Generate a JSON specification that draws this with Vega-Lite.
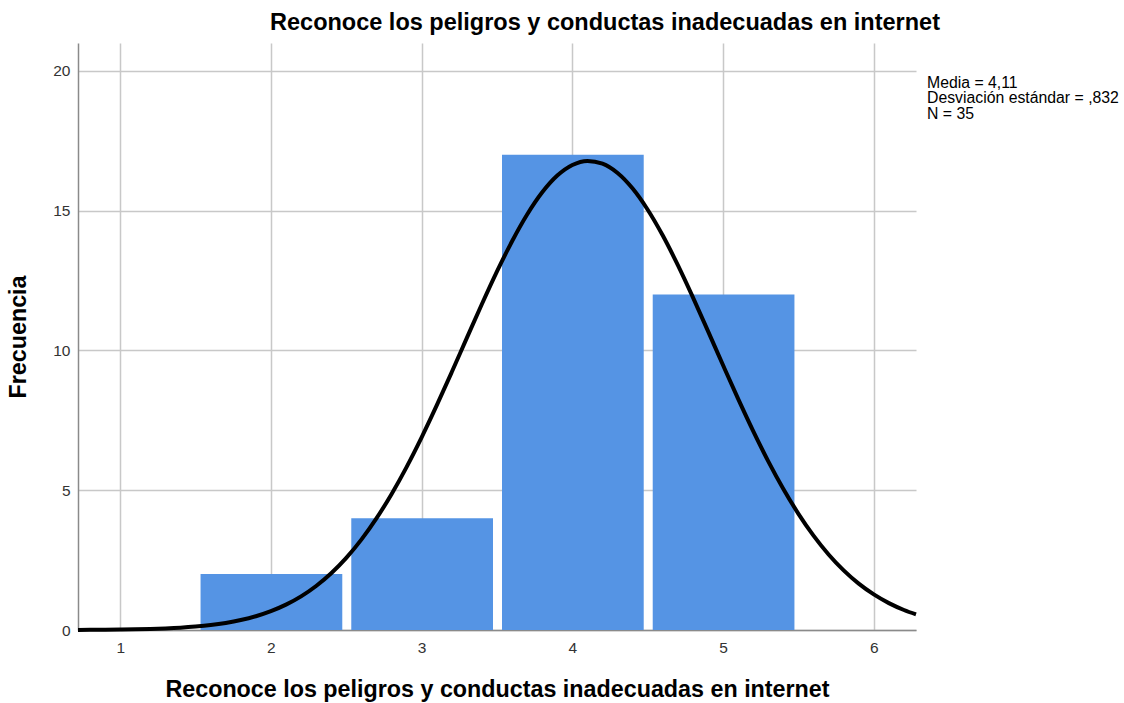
{
  "$schema": "https://vega.github.io/schema/vega-lite/v6.json",
  "width": 838,
  "height": 587,
  "autosize": "none",
  "padding": {"left": 78, "top": 43, "right": 208, "bottom": 73},
  "background": "white",
  "config": {
    "font": "Liberation Sans",
    "view": {"stroke": null},
    "axis": {
      "labelFont": "Liberation Sans",
      "titleFont": "Liberation Sans",
      "labelFontSize": 15.5,
      "labelColor": "#333333",
      "titleFontSize": 23.3,
      "titleFontWeight": "bold",
      "titleColor": "#000000",
      "grid": true,
      "gridColor": "#c8c8c8",
      "gridWidth": 1.5,
      "domainColor": "#8a8a8a",
      "domainWidth": 1.5,
      "ticks": false
    }
  },
  "title": {
    "text": "Reconoce los peligros y conductas inadecuadas en internet",
    "font": "Liberation Sans",
    "fontSize": 23.5,
    "fontWeight": "bold",
    "color": "#000000",
    "anchor": "middle",
    "dx": 108,
    "offset": 9
  },
  "datasets": {
    "bars": [
      {"start": 1.5, "end": 2.5, "count": 2},
      {"start": 2.5, "end": 3.5, "count": 4},
      {"start": 3.5, "end": 4.5, "count": 17},
      {"start": 4.5, "end": 5.5, "count": 12}
    ],
    "curve": [
      {"x": 0.72, "y": 0.004}, {"x": 0.8, "y": 0.006}, {"x": 0.9, "y": 0.010}, {"x": 1.0, "y": 0.016},
      {"x": 1.1, "y": 0.024}, {"x": 1.2, "y": 0.037}, {"x": 1.3, "y": 0.056}, {"x": 1.4, "y": 0.083},
      {"x": 1.5, "y": 0.123}, {"x": 1.6, "y": 0.177}, {"x": 1.7, "y": 0.253}, {"x": 1.8, "y": 0.356},
      {"x": 1.9, "y": 0.493}, {"x": 2.0, "y": 0.674}, {"x": 2.1, "y": 0.907}, {"x": 2.2, "y": 1.204},
      {"x": 2.3, "y": 1.575}, {"x": 2.4, "y": 2.030}, {"x": 2.5, "y": 2.580}, {"x": 2.6, "y": 3.233},
      {"x": 2.7, "y": 3.992}, {"x": 2.8, "y": 4.859}, {"x": 2.9, "y": 5.829}, {"x": 3.0, "y": 6.892},
      {"x": 3.1, "y": 8.033}, {"x": 3.2, "y": 9.228}, {"x": 3.3, "y": 10.449}, {"x": 3.4, "y": 11.661},
      {"x": 3.5, "y": 12.828}, {"x": 3.6, "y": 13.908}, {"x": 3.7, "y": 14.864}, {"x": 3.8, "y": 15.658},
      {"x": 3.9, "y": 16.257}, {"x": 4.0, "y": 16.637}, {"x": 4.1, "y": 16.782}, {"x": 4.2, "y": 16.685},
      {"x": 4.3, "y": 16.351}, {"x": 4.4, "y": 15.794}, {"x": 4.5, "y": 15.036}, {"x": 4.6, "y": 14.111},
      {"x": 4.7, "y": 13.051}, {"x": 4.8, "y": 11.898}, {"x": 4.9, "y": 10.693}, {"x": 5.0, "y": 9.471},
      {"x": 5.1, "y": 8.268}, {"x": 5.2, "y": 7.115}, {"x": 5.3, "y": 6.034}, {"x": 5.4, "y": 5.045},
      {"x": 5.5, "y": 4.157}, {"x": 5.6, "y": 3.376}, {"x": 5.7, "y": 2.703}, {"x": 5.8, "y": 2.133},
      {"x": 5.9, "y": 1.659}, {"x": 6.0, "y": 1.272}, {"x": 6.1, "y": 0.961}, {"x": 6.2, "y": 0.716},
      {"x": 6.28, "y": 0.560}
    ],
    "stats": [
      {"label": "Media = 4,11\nDesviación estándar = ,832\nN = 35"}
    ]
  },
  "layer": [
    {
      "data": {"name": "bars"},
      "mark": {"type": "bar", "color": "#5594E4", "binSpacing": 9},
      "encoding": {
        "x": {
          "field": "start",
          "type": "quantitative",
          "bin": "binned",
          "scale": {"domain": [0.72, 6.28], "nice": false, "zero": false},
          "axis": {
            "title": "Reconoce los peligros y conductas inadecuadas en internet",
            "values": [1, 2, 3, 4, 5, 6],
            "format": "d",
            "grid": true,
            "labelPadding": 10,
            "titlePadding": 23
          }
        },
        "x2": {"field": "end"},
        "y": {
          "field": "count",
          "type": "quantitative",
          "scale": {"domain": [0, 21], "nice": false},
          "axis": {
            "title": "Frecuencia",
            "values": [0, 5, 10, 15, 20],
            "labelPadding": 8,
            "titlePadding": 22
          }
        }
      }
    },
    {
      "data": {"name": "curve"},
      "mark": {"type": "line", "color": "#000000", "strokeWidth": 4, "interpolate": "monotone"},
      "encoding": {
        "x": {"field": "x", "type": "quantitative"},
        "y": {"field": "y", "type": "quantitative"}
      }
    },
    {
      "data": {"name": "stats"},
      "mark": {
        "type": "text",
        "align": "left",
        "baseline": "top",
        "fontSize": 15.8,
        "lineHeight": 15.7,
        "lineBreak": "\n",
        "color": "#000000",
        "dx": 11,
        "font": "Liberation Sans"
      },
      "encoding": {
        "x": {"datum": 6.28, "type": "quantitative"},
        "y": {"datum": 19.83, "type": "quantitative"},
        "text": {"field": "label"}
      }
    }
  ]
}
